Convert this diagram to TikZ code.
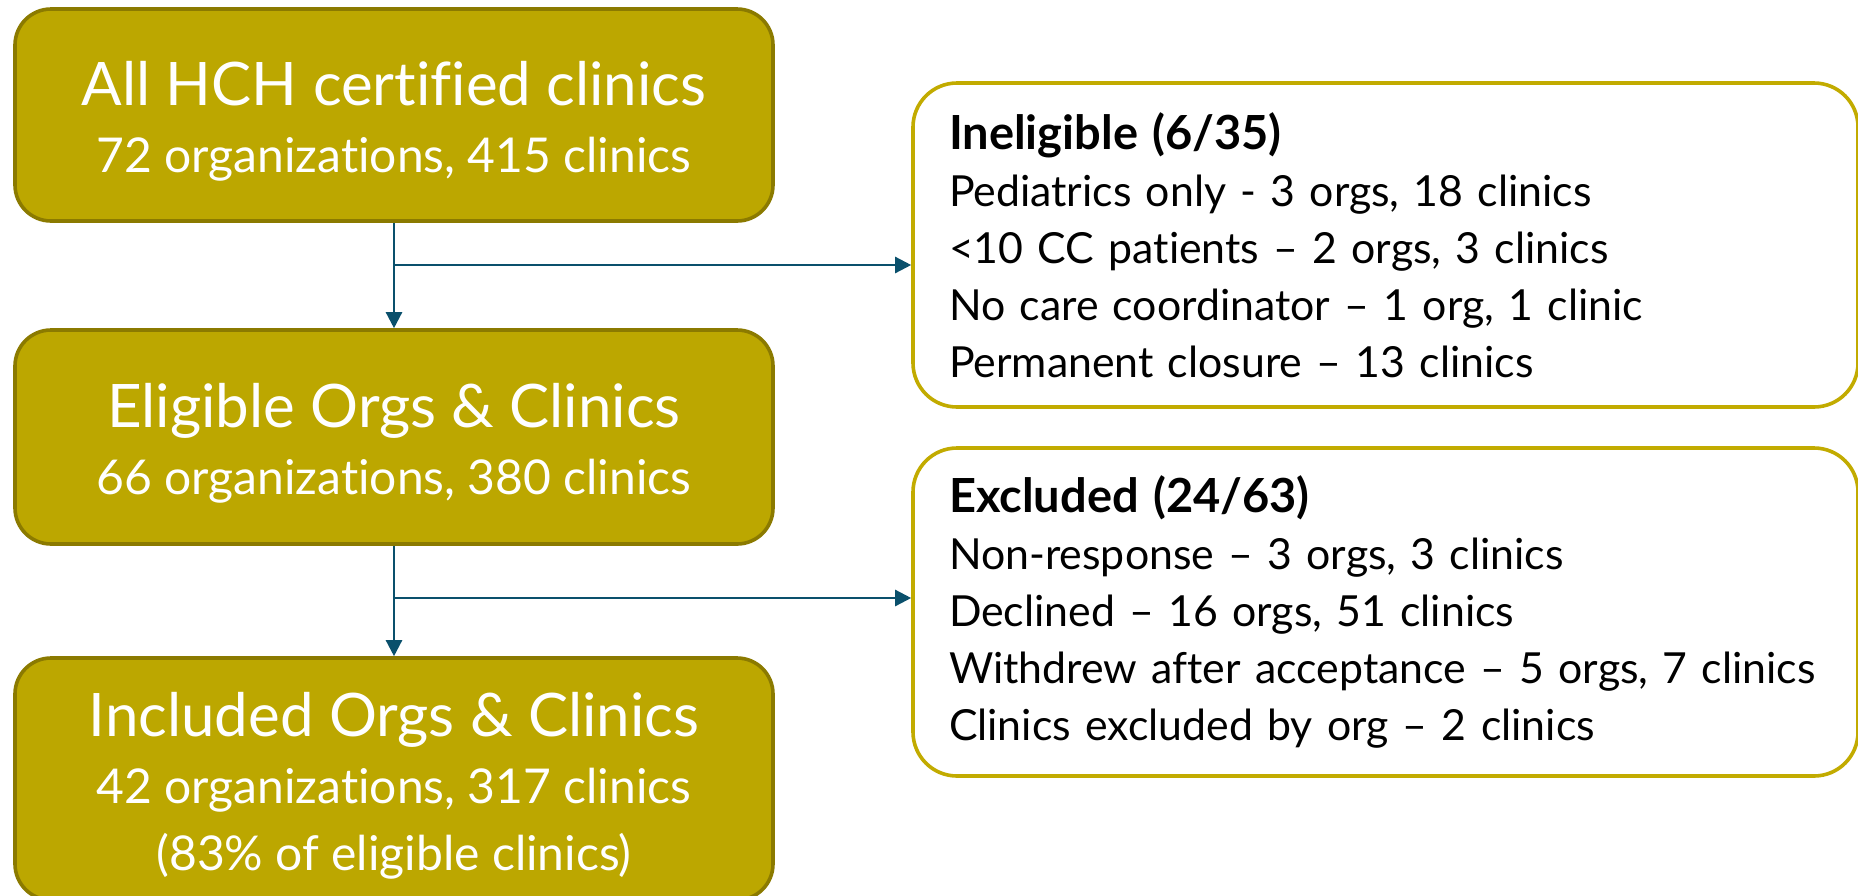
\documentclass[tikz,border=0pt]{standalone}
\usepackage{fontspec}
\setmainfont{Lato}[Ligatures={TeX,CommonOff}]
\usetikzlibrary{arrows.meta}

\definecolor{hchgold}{RGB}{188,167,0}
\definecolor{hchedge}{RGB}{139,122,0}
\definecolor{sideedge}{RGB}{194,171,0}
\definecolor{flowblue}{RGB}{10,80,108}
\newcommand{\hchtitle}{\fontsize{30}{33.5}\selectfont\rule{0pt}{28.5pt}}
\newcommand{\hchsub}{\fontsize{24}{33.5}\selectfont}
\newcommand{\sidehead}[1]{{\fontsize{23.5}{28.5}\selectfont\textbf{#1}}}

\tikzset{
  mainbox/.style={draw=hchedge, line width=1.8pt, fill=hchgold, rounded corners=18pt,
    text=white, align=center, minimum width=379pt, inner sep=0pt,
    font=\fontsize{24}{33.5}\selectfont},
  sidebox/.style={draw=sideedge, line width=1.8pt, fill=white, rounded corners=22pt,
    text width=436.5pt, inner xsep=18pt, inner ysep=0pt, align=left,
    font=\fontsize{21.4}{28.5}\selectfont},
  flow/.style={draw=flowblue, line width=1.2pt, -{Triangle[length=8pt,width=8pt]}}
}

\begin{document}
\begin{tikzpicture}[x=0.5pt,y=-0.5pt]
\useasboundingbox (0,0) rectangle (1858,895);

\node[mainbox, minimum height=106pt] (all) at (394,115)
  {{\hchtitle All HCH certified clinics}\\{\hchsub 72 organizations, 415 clinics}};
\node[mainbox, minimum height=107pt] (elig) at (394,437)
  {{\hchtitle Eligible Orgs \& Clinics}\\{\hchsub 66 organizations, 380 clinics}};
\node[mainbox, minimum height=121pt] (incl) at (394,779)
  {{\hchtitle Included Orgs \& Clinics}\\{\hchsub 42 organizations, 317 clinics}\\{\hchsub (83\% of eligible clinics)}};

\node[sidebox, minimum height=162pt] (inel) at (1385.5,245)
  {\sidehead{Ineligible (6/35)}\\
   Pediatrics only - 3 orgs, 18 clinics\\
   <10 CC patients – 2 orgs, 3 clinics\\
   No care coordinator – 1 org, 1 clinic\\
   Permanent closure – 13 clinics};
\node[sidebox, minimum height=164pt] (excl) at (1385.5,612)
  {\sidehead{Excluded (24/63)}\\
   Non-response – 3 orgs, 3 clinics\\
   Declined – 16 orgs, 51 clinics\\
   Withdrew after acceptance – 5 orgs, 7 clinics\\
   Clinics excluded by org – 2 clinics};

\coordinate (split1) at (394,265);
\coordinate (split2) at (394,598);

\draw[flow] (all) -- (elig);
\draw[flow] (elig) -- (incl);
\draw[flow] (split1) -- (split1 -| inel.west);
\draw[flow] (split2) -- (split2 -| excl.west);

\end{tikzpicture}
\end{document}
